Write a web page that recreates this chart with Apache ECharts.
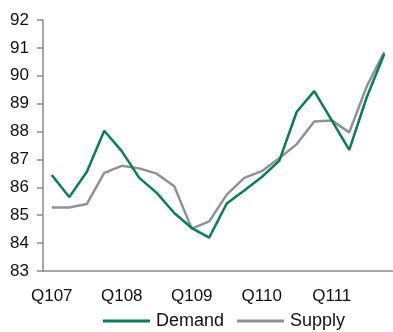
<!DOCTYPE html>
<html>
<head>
<meta charset="utf-8">
<script src="https://cdn.jsdelivr.net/npm/echarts@6/dist/echarts.min.js"></script>
<style>
  html, body { margin: 0; padding: 0; background: #fff; }
  #chart { width: 393px; height: 332px; }
</style>
</head>
<body>
<div id="chart"></div>
<script>
// Quarterly index, Q1 2007 – Q4 2011
const quarters = [
  'Q107', 'Q207', 'Q307', 'Q407',
  'Q108', 'Q208', 'Q308', 'Q408',
  'Q109', 'Q209', 'Q309', 'Q409',
  'Q110', 'Q210', 'Q310', 'Q410',
  'Q111', 'Q211', 'Q311', 'Q411'
];
const demand = [
  86.44, 85.65, 86.55, 88.03,
  87.3, 86.34, 85.8, 85.08,
  84.54, 84.2, 85.42, 85.89,
  86.37, 86.95, 88.71, 89.45,
  88.4, 87.34, 89.23, 90.78
];
const supply = [
  85.28, 85.28, 85.4, 86.52,
  86.77, 86.68, 86.49, 86.04,
  84.52, 84.78, 85.74, 86.34,
  86.58, 87.04, 87.55, 88.36,
  88.4, 87.97, 89.62, 90.85
];
const yMin = 83, yMax = 92, yStep = 1;

const chart = echarts.init(document.getElementById('chart'), null, { renderer: 'canvas' });
const font = 'Liberation Sans, Arial, sans-serif';
const axisGray = '#8a8a8a';

chart.setOption({
  animation: false,
  grid: { left: 43, right: 0, top: 20, bottom: 61 },
  legend: {
    top: 307,
    left: 98,
    itemWidth: 47,
    itemHeight: 3,
    itemGap: 13,
    icon: 'rect',
    textStyle: { fontFamily: font, fontSize: 18, color: '#111', padding: [0, 0, 0, 1] },
    data: ['Demand', 'Supply']
  },
  xAxis: {
    type: 'category',
    data: quarters,
    boundaryGap: true,
    axisLine: { lineStyle: { color: axisGray, width: 1.5 } },
    axisTick: { interval: 1, length: 5, lineStyle: { color: axisGray, width: 1.5 } },
    axisLabel: { interval: 3, margin: 17, fontFamily: font, fontSize: 17, color: '#111' }
  },
  yAxis: {
    type: 'value',
    min: yMin,
    max: yMax,
    interval: yStep,
    splitLine: { show: false },
    axisLine: { show: true, lineStyle: { color: axisGray, width: 1.5 } },
    axisTick: { show: true, length: 6, lineStyle: { color: axisGray, width: 1.5 } },
    axisLabel: { margin: 14, fontFamily: font, fontSize: 17, color: '#111' }
  },
  series: [
    {
      name: 'Demand',
      type: 'line',
      data: demand,
      symbol: 'none',
      color: '#0b7d55',
      lineStyle: { width: 2.5, color: '#0b7d55' },
      z: 3
    },
    {
      name: 'Supply',
      type: 'line',
      data: supply,
      symbol: 'none',
      color: '#8e9197',
      lineStyle: { width: 2.5, color: '#8e9197' },
      z: 2
    }
  ]
});
</script>
</body>
</html>
